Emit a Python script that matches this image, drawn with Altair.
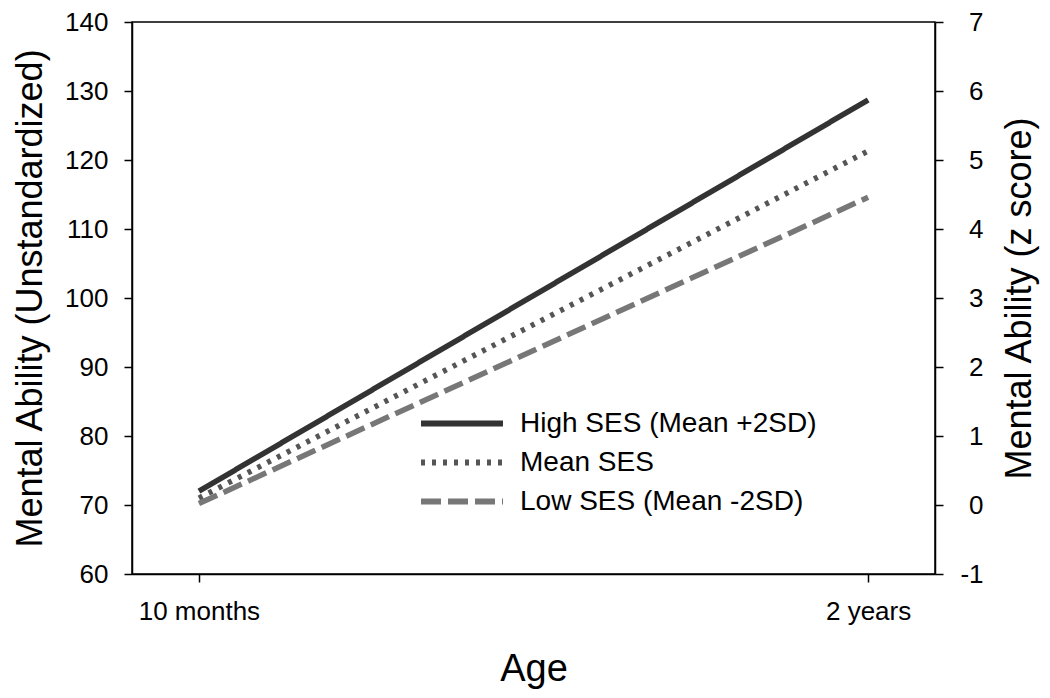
import altair as alt
import pandas as pd

age_months = [10, 24]
series = ["High SES (Mean +2SD)", "Mean SES", "Low SES (Mean -2SD)"]
high_ses = [72.0, 128.7]
mean_ses = [71.0, 121.3]
low_ses = [70.2, 114.6]
colors = ["#333333", "#555555", "#777777"]
dashes = [[1, 0], [4, 7], [20, 7]]

rows = []
for name, vals in zip(series, [high_ses, mean_ses, low_ses]):
    for a, v in zip(age_months, vals):
        rows.append({"age": a, "value": v, "series": name})
df = pd.DataFrame(rows)

FONT = "Liberation Sans"

x_enc = alt.X("age:Q", scale=alt.Scale(domain=[8.6, 25.4], nice=False, zero=False),
              axis=alt.Axis(title="Age", values=age_months,
                            labelExpr="datum.value == 10 ? '10 months' : '2 years'",
                            grid=False, tickSize=8, labelPadding=16,
                            titlePadding=26, titleFontSize=38))

legend = alt.Legend(title=None, orient="none", legendX=286, legendY=383,
                    symbolType="stroke", symbolSize=6724, symbolStrokeWidth=6,
                    labelFontSize=28, labelFont=FONT, labelOffset=14,
                    labelLimit=500, clipHeight=37, rowPadding=2, labelColor="black")

lines = alt.Chart(df).mark_line(strokeWidth=5.5).encode(
    x=x_enc,
    y=alt.Y("value:Q", scale=alt.Scale(domain=[60, 140], nice=False, zero=False),
            axis=alt.Axis(title="Mental Ability (Unstandardized)",
                          values=list(range(60, 141, 10)), grid=False,
                          tickSize=8, labelPadding=16, titlePadding=15)),
    color=alt.Color("series:N", scale=alt.Scale(domain=series, range=colors), legend=legend),
    strokeDash=alt.StrokeDash("series:N", scale=alt.Scale(domain=series, range=dashes), legend=legend),
)

right = alt.Chart(df).transform_calculate(z="(datum.value - 70) / 10").mark_line(opacity=0).encode(
    x=x_enc,
    y=alt.Y("z:Q", scale=alt.Scale(domain=[-1, 7], nice=False, zero=False),
            axis=alt.Axis(orient="right", title="Mental Ability (z score)",
                          values=list(range(-1, 8)), grid=False, tickSize=8,
                          labelExpr="'' + datum.value", titleAngle=270,
                          labelPadding=40, labelAlign="right", titlePadding=55)),
)

chart = alt.layer(lines, right).resolve_scale(y="independent").properties(
    width=803, height=552,
    autosize=alt.AutoSizeParams(type="none"),
    padding={"left": 124, "top": 14, "right": 107, "bottom": 116},
    background="white",
).configure_view(stroke="black", strokeWidth=1.5).configure_axis(
    domainColor="black", domainWidth=1.5, tickColor="black", tickWidth=1.5,
    labelFont=FONT, labelFontSize=26, labelColor="black",
    titleFont=FONT, titleFontSize=36, titleFontWeight="normal", titleColor="black",
)

chart.save("out.html", embed_options={"renderer": "svg", "actions": False})
